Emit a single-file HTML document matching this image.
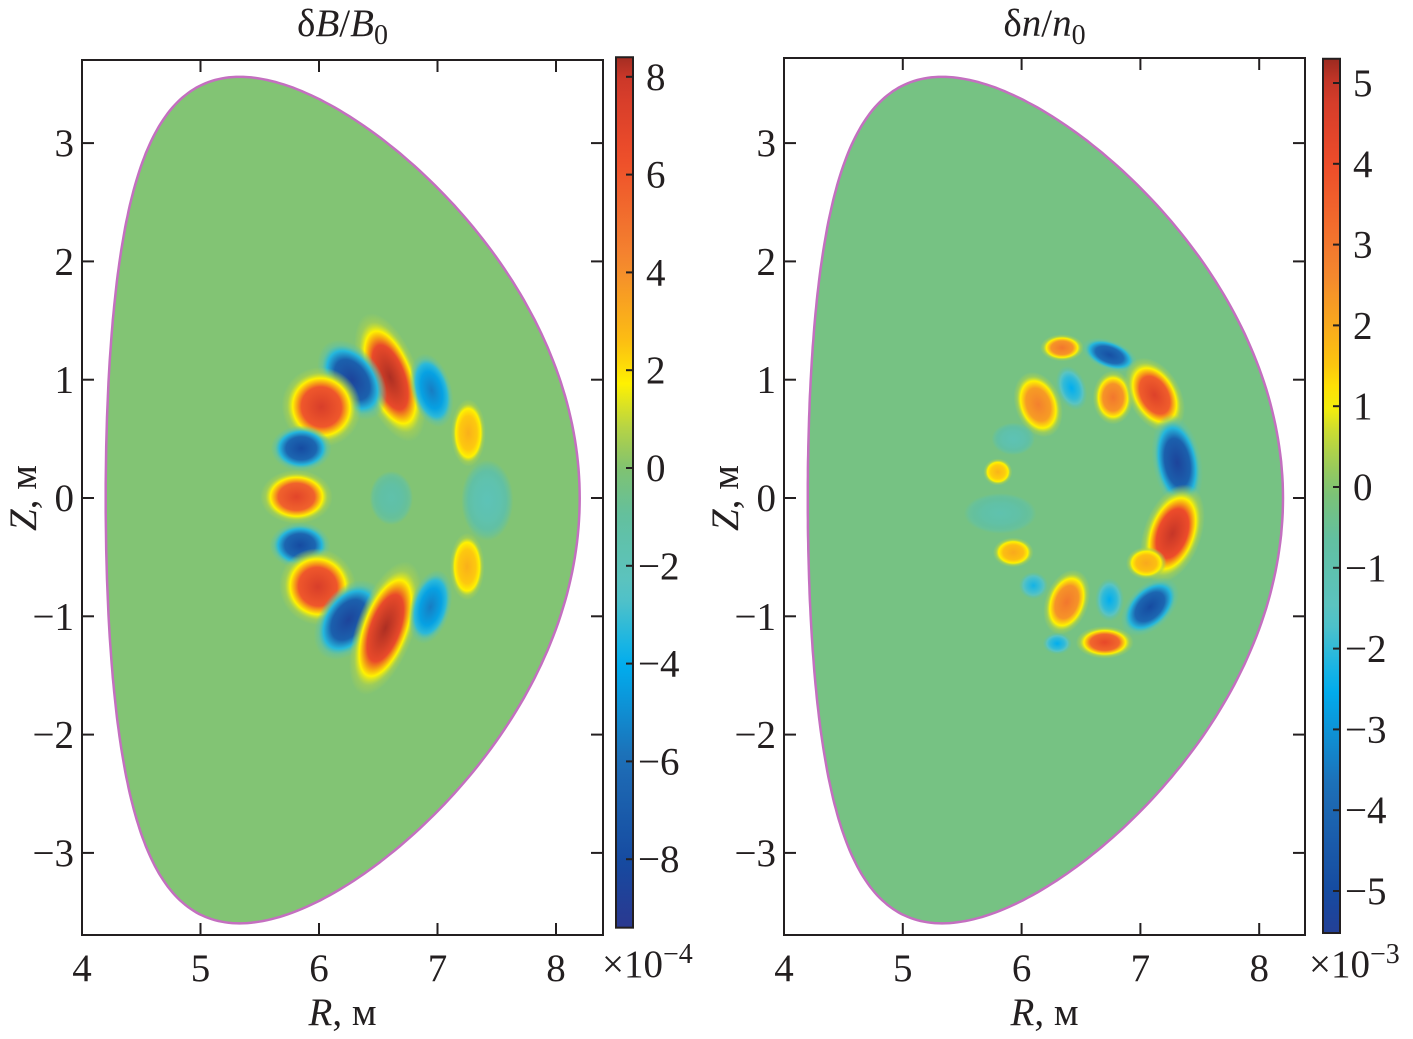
<!DOCTYPE html>
<html><head><meta charset="utf-8">
<style>
html,body{margin:0;padding:0;background:#fff;}
svg{display:block;}
text{font-family:"Liberation Serif","Times New Roman",serif;fill:#231f20;}
</style></head>
<body>
<svg id="fig" width="1413" height="1039" viewBox="0 0 1413 1039" xmlns="http://www.w3.org/2000/svg"></svg>
<script>
// ---- data ----
const xTicks = [4,5,6,7,8];
const yTicks = [3,2,1,0,-1,-2,-3];
const yTickLabels = ["3","2","1","0","\u22121","\u22122","\u22123"];
const cbTicksB = [8,6,4,2,0,-2,-4,-6,-8];
const cbTicksN = [5,4,3,2,1,0,-1,-2,-3,-4,-5];
// left panel blobs (R [m], Z [m], value x1e-4)
const blobR_B = [6.60,6.28,6.02,5.85,5.81,5.84,5.99,6.25,6.56,6.94,6.95,7.26,7.25,7.42,6.61];
const blobZ_B = [1.02,1.00,0.77,0.42,0.01,-0.40,-0.75,-1.03,-1.10,-0.92,0.91,0.55,-0.58,-0.02,0.00];
const blobV_B = [8.3,-8.5,7.5,-8,7,-8,7.5,-8.5,8.3,-5.5,-5.5,3,3,-2,-1.5];
// right panel blobs (R, Z, value x1e-3)
const blobR_N = [6.34,6.74,6.42,6.14,6.77,7.12,7.31,7.27,7.05,5.80,5.82,5.93,6.10,6.38,6.74,7.08,6.70,6.30,5.93];
const blobZ_N = [1.27,1.21,0.93,0.79,0.85,0.87,0.30,-0.30,-0.55,0.22,-0.13,-0.46,-0.74,-0.88,-0.86,-0.92,-1.22,-1.23,0.50];
const blobV_N = [3,-4.8,-2.5,2.8,3,4.5,-5.3,5,2,1.8,-1,2,-2.3,3,-2.5,-5,4.2,-2.5,-1.2];
// blob shapes (pixels, degrees) - styling only
const shapeB = [[20,50,-20],[20,33,-35],[27,30,-45],[21,17,0],[25,20,0],[21,17,0],[27,28,45],[20,33,35],[20,52,20],[14,28,15],[14,28,-15],[12,25,0],[12,25,0],[18,30,0],[15,20,0]];
const shapeN = [[15,10,0],[20,11,20],[10,17,-20],[16,25,-20],[14,20,0],[18,30,-30],[17,36,-10],[20,38,20],[14,12,0],[10,10,0],[25,15,0],[14,11,0],[10,10,0],[15,25,20],[10,16,0],[15,26,45],[20,12,0],[10,8,0],[15,12,0]];

const cmapStops = [[-1.1,[43,57,144]],[-0.95,[22,74,160]],[-0.7,[30,110,182]],[-0.47,[0,174,239]],[-0.3,[90,196,196]],[-0.12,[98,192,160]],[0,[128,194,112]],[0.12,[195,216,58]],[0.2,[255,242,0]],[0.3,[252,191,18]],[0.5,[244,134,47]],[0.75,[238,77,42]],[0.93,[208,57,42]],[1.0,[155,42,32]]];
function cmap(t){
  if(t<=cmapStops[0][0]) return rgb(cmapStops[0][1]);
  for(let i=1;i<cmapStops.length;i++){
    if(t<=cmapStops[i][0]){
      const a=cmapStops[i-1],b=cmapStops[i],f=(t-a[0])/(b[0]-a[0]);
      return rgb(a[1].map((c,k)=>c+(b[1][k]-c)*f));
    }
  }
  return rgb(cmapStops[cmapStops.length-1][1]);
}
function rgb(c){return `rgb(${c.map(v=>Math.round(v)).join(',')})`;}

const NS="http://www.w3.org/2000/svg";
const svg=document.getElementById('fig');
const defs=document.createElementNS(NS,'defs');svg.appendChild(defs);
function el(tag,attrs,parent){const e=document.createElementNS(NS,tag);for(const k in attrs)e.setAttribute(k,attrs[k]);(parent||svg).appendChild(e);return e;}

const FS=39;
function panel(o){
  const g=el('g',{});
  
  
  const xs=R=>o.x0+(R-4)*o.px;
  const ys=Z=>o.yZero-Z*o.py;
  let d='';
  for(let i=0;i<=360;i++){
    const th=i*Math.PI/180;
    const R=6.2+2.0*Math.cos(th+0.45*Math.sin(th));
    const Z=1.78*2.0*Math.sin(th)*(th>Math.PI?1.01:1);
    d+=(i?'L':'M')+xs(R).toFixed(1)+','+ys(Z).toFixed(1);
  }
  d+='Z';
  const cp=el('clipPath',{id:'clip'+o.id},defs);
  el('path',{d:d},cp);
  const plasma=el('g',{'clip-path':`url(#clip${o.id})`},g);
  const bg=el('path',{d:d,fill:o.bg},plasma);
  
  
  for(let i=0;i<o.R.length;i++){
    const v=o.V[i]/o.vmax;
    const gid='g'+o.id+i;
    const rg=el('radialGradient',{id:gid},defs);
    const core=cmap(v), mid=cmap(v*0.8);
    const rim=v>0?cmap(Math.min(0.2,v*0.6)):cmap(Math.max(-0.4,v*0.6));
    const edge=v>0?cmap(0.08):cmap(-0.15);
    el('stop',{offset:'0',"stop-color":core},rg);
    el('stop',{offset:'0.5',"stop-color":mid},rg);
    el('stop',{offset:'0.72',"stop-color":rim},rg);
    el('stop',{offset:'0.86',"stop-color":edge,"stop-opacity":'0.6'},rg);
    el('stop',{offset:'1',"stop-color":edge,"stop-opacity":'0'},rg);
    const s=o.S[i];
    const e=el('ellipse',{cx:xs(o.R[i]),cy:ys(o.Z[i]),rx:s[0]*1.45,ry:s[1]*1.35,fill:`url(#${gid})`,
      transform:`rotate(${s[2]} ${xs(o.R[i])} ${ys(o.Z[i])})`},plasma);
    
    
  }
  const bd=el('path',{d:d,fill:'none',stroke:'#c46fc0','stroke-width':2.5},g);
  
  
  const box=el('rect',{x:o.x0,y:o.top,width:o.x1-o.x0,height:o.bot-o.top,fill:'none',stroke:'#231f20','stroke-width':2},g);
  
  
  xTicks.forEach(t=>{
    const x=xs(t);
    el('line',{x1:x,x2:x,y1:o.bot,y2:o.bot-12,stroke:'#231f20','stroke-width':2},g);
    el('line',{x1:x,x2:x,y1:o.top,y2:o.top+12,stroke:'#231f20','stroke-width':2},g);
    const tx=el('text',{x:x,y:o.bot+46,'font-size':FS,'text-anchor':'middle'},g);
    tx.textContent=t;
    
    
  });
  yTicks.forEach((t,i)=>{
    const y=ys(t);
    el('line',{x1:o.x0,x2:o.x0+12,y1:y,y2:y,stroke:'#231f20','stroke-width':2},g);
    el('line',{x1:o.x1,x2:o.x1-12,y1:y,y2:y,stroke:'#231f20','stroke-width':2},g);
    const tx=el('text',{x:o.x0-8,y:y+13,'font-size':FS,'text-anchor':'end'},g);
    tx.textContent=yTickLabels[i];
    
    
  });
  const xl=el('text',{x:(o.x0+o.x1)/2,y:1025,'font-size':FS,'text-anchor':'middle'},g);
  xl.innerHTML='<tspan font-style="italic">R</tspan>, м';
  
  
  const yl=el('text',{x:0,y:0,'font-size':FS,'text-anchor':'middle',transform:`translate(${o.x0-46},${o.yZero}) rotate(-90)`},g);
  yl.innerHTML='<tspan font-style="italic">Z</tspan>, м';
  
  
  const ti=el('text',{x:(o.x0+o.x1)/2,y:36,'font-size':FS,'text-anchor':'middle'},g);
  ti.innerHTML=o.title;
  
  
  const cbVal=v=>o.cbZero-v*o.cbStep;
  const lg=el('linearGradient',{id:'cb'+o.id,x1:0,y1:1,x2:0,y2:0},defs);
  for(let k=0;k<=40;k++){
    const f=k/40;const val=o.cbMin+(o.cbMax-o.cbMin)*f;
    el('stop',{offset:f,'stop-color':cmap(val/o.vmax)},lg);
  }
  const cb=el('rect',{x:o.cbx,y:cbVal(o.cbMax),width:17,height:cbVal(o.cbMin)-cbVal(o.cbMax),fill:`url(#cb${o.id})`,stroke:'#231f20','stroke-width':2},g);
  
  
  o.cbTicks.forEach(t=>{
    const y=cbVal(t);
    el('line',{x1:o.cbx+17,x2:o.cbx+10,y1:y,y2:y,stroke:'#231f20','stroke-width':2},g);
    const tx=el('text',{x:o.cbx+(t<0?22:30),y:y+13,'font-size':FS},g);
    tx.textContent=t<0?'\u2212'+(-t):String(t);
    
    
  });
  const ex=el('text',{x:o.cbx-14,y:977,'font-size':FS},g);
  ex.innerHTML=o.exp;
  
  
}

panel({id:'B',name:'panel-delta-b',x0:82,x1:603,top:60,bot:935,px:118.5,py:118.3,yZero:498,
  R:blobR_B,Z:blobZ_B,V:blobV_B,S:shapeB,vmax:8.5,bg:'#82c474',
  title:'δ<tspan font-style="italic">B</tspan>/<tspan font-style="italic">B</tspan><tspan font-size="28" dy="8">0</tspan>',
  cbx:616,cbZero:468,cbStep:48.9,cbMin:-9.4,cbMax:8.4,cbTicks:cbTicksB,
  exp:'×10<tspan font-size="28" dy="-14">−4</tspan>'});
panel({id:'N',name:'panel-delta-n',x0:784,x1:1305,top:58,bot:935,px:118.8,py:118.3,yZero:498,
  R:blobR_N,Z:blobZ_N,V:blobV_N,S:shapeN,vmax:5.3,bg:'#76c283',
  title:'δ<tspan font-style="italic">n</tspan>/<tspan font-style="italic">n</tspan><tspan font-size="28" dy="8">0</tspan>',
  cbx:1323,cbZero:487,cbStep:80.8,cbMin:-5.52,cbMax:5.3,cbTicks:cbTicksN,
  exp:'×10<tspan font-size="28" dy="-14">−3</tspan>'});
</script>
</body></html>
